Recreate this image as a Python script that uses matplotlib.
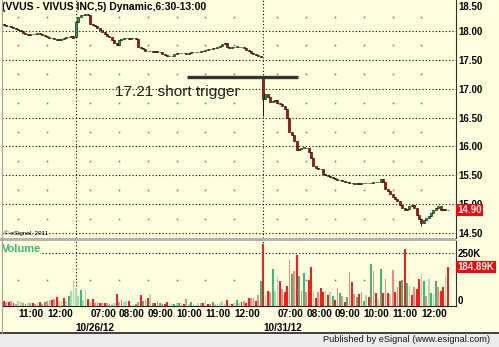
import numpy as np
import matplotlib.pyplot as plt
from matplotlib.transforms import blended_transform_factory
from matplotlib.patches import Rectangle
from matplotlib.lines import Line2D

plt.rcParams['font.family'] = ['Liberation Sans', 'DejaVu Sans']

# VVUS 5 minutos, sessao 6:30-13:00
# 10/25 (fim do dia), 10/26 e 10/31 (mercado fechado 10/29-30)
close_1025 = [18.11, 18.09, 18.08, 18.07, 18.05, 18.04, 18.02, 18.00, 17.97, 17.95,
              17.93, 17.94, 17.95, 17.94, 17.96, 17.95, 17.93, 17.92, 17.90, 17.88,
              17.87, 17.86, 17.85, 17.85, 17.86, 17.88, 17.89, 17.90, 17.91, 17.88]
close_1026 = [18.15, 18.24, 18.27, 18.28, 18.29, 18.28, 18.12, 18.10, 18.08, 18.05,
              18.02, 17.99, 17.95, 17.91, 17.89, 17.84, 17.80, 17.75, 17.85, 17.86,
              17.87, 17.87, 17.86, 17.87, 17.87, 17.86, 17.72, 17.70, 17.68, 17.66,
              17.65, 17.66, 17.64, 17.65, 17.64, 17.63, 17.60, 17.58, 17.56, 17.57,
              17.56, 17.60, 17.61, 17.61, 17.62, 17.61, 17.60, 17.62, 17.63, 17.64,
              17.63, 17.64, 17.65, 17.66, 17.67, 17.68, 17.68, 17.70, 17.71, 17.72,
              17.74, 17.77, 17.80, 17.73, 17.71, 17.72, 17.73, 17.73, 17.72, 17.73,
              17.70, 17.67, 17.65, 17.62, 17.60, 17.58, 17.57, 17.55]
close_1031 = [16.82, 16.90, 16.85, 16.77, 16.78, 16.80, 16.75, 16.74, 16.70, 16.65,
              16.50, 16.25, 16.20, 16.10, 15.94, 15.95, 15.98, 15.98, 15.97, 15.90,
              15.80, 15.66, 15.62, 15.60, 15.60, 15.52, 15.50, 15.48, 15.47, 15.45,
              15.44, 15.42, 15.42, 15.40, 15.39, 15.38, 15.37, 15.36, 15.35, 15.36,
              15.35, 15.36, 15.36, 15.37, 15.37, 15.37, 15.38, 15.38, 15.39, 15.43,
              15.38, 15.27, 15.22, 15.17, 15.12, 15.09, 15.06, 14.98, 14.93, 14.90,
              14.92, 14.97, 14.99, 14.94, 14.82, 14.74, 14.68, 14.73, 14.76, 14.79,
              14.84, 14.90, 14.93, 14.96, 14.90, 14.91, 14.89, 14.90]
day_opens = [18.12, 17.89, 17.22]
wick_lows = {108: 16.52, 174: 14.62}

# volume em milhares; R/r = vermelho forte/claro, G/g = verde forte/claro
vol_1025 = [22, 19, 21, 22, 14, 11, 22, 17, 14, 11, 13, 14, 16, 11, 14,
            19, 11, 21, 22, 30, 27, 32, 41, 22, 25, 38, 25, 49, 71, 125]
vol_1026 = [85, 46, 74, 27, 77, 33, 17, 33, 14, 17, 13, 14, 16, 13, 11, 11, 16, 57, 17, 27,
            17, 22, 22, 5, 6, 11, 17, 51, 24, 30, 38, 55, 16, 14, 22, 14, 11, 8, 19, 14,
            9, 8, 13, 16, 16, 8, 32, 11, 19, 8, 5, 14, 13, 13, 30, 8, 9, 17, 8, 9,
            14, 24, 11, 30, 13, 9, 13, 27, 14, 17, 22, 14, 36, 36, 36, 24, 51, 117]
vol_1031 = [295, 46, 70, 65, 174, 70, 141, 117, 79, 66, 95, 216, 152, 166, 242, 141, 73, 155, 65, 122,
            185, 70, 38, 68, 84, 65, 70, 54, 65, 49, 30, 84, 62, 49, 19, 41, 160, 112, 57, 41,
            57, 65, 22, 51, 41, 198, 166, 62, 35, 174, 62, 126, 62, 57, 169, 65, 88, 117, 122, 269,
            109, 95, 52, 88, 79, 128, 152, 120, 46, 126, 62, 57, 117, 88, 70, 90, 141, 185]
volcol_1025 = "RrRrRrggrGgrRrgRrGrrRrRggRgGgg"
volcol_1026 = ("ggGggRgRrr" "RrRrrggRrG" "ggRggGrRGr" "RgGRrGrRRg"
               "gGgGgRrgGg" "ggrRgRrGgg" "gggRgRgGgR" "rRRrrRrG")
volcol_1031 = ("RgRrGggRrR" "RrGrRGrGrR" "RgRrRRgRgG" "RrGrRGrRrG"
               "RrGgRGrRgG" "RrRgrRrRGR" "GgRrRRgGrg" "GgGrRRgR")

date_labels = ['10/26/12', '10/31/12']
price_ticks = [14.5, 15.0, 15.5, 16.0, 16.5, 17.0, 17.5, 18.0, 18.5]
trigger_price = 17.21
trigger_span = (76.3, 122.6)
last_price = 14.90
last_volume = 184.89

W, H = 499, 347
BG = '#ffffe0'

# montar barras
closes = np.array(close_1025 + close_1026 + close_1031)
day_len = [len(close_1025), len(close_1026), len(close_1031)]
day_start = np.cumsum([0] + day_len[:-1])
opens = np.empty_like(closes)
opens[1:] = closes[:-1]
for s, o in zip(day_start, day_opens):
    opens[s] = o
highs = np.maximum(opens, closes)
lows = np.minimum(opens, closes)
for i, lo in wick_lows.items():
    lows[i] = lo
x = np.arange(len(closes))

# horarios de cada barra para as marcas de hora
times = [10 * 60 + 30 + 5 * k for k in range(day_len[0])]
for n in day_len[1:]:
    times += [6 * 60 + 30 + 5 * k for k in range(n)]
times = np.array(times)
hour_idx = x[times % 60 == 0]
hour_lab = ['%02d:00' % (t // 60) for t in times[hour_idx]]

vols = np.array(vol_1025 + vol_1026 + vol_1031) * 1000.0
vcodes = volcol_1025 + volcol_1026 + volcol_1031
vpal = {'R': '#ff1a1a', 'r': '#f4897e', 'G': '#3cb878', 'g': '#a6dcae'}
vcolors = [vpal[c] for c in vcodes]

fig = plt.figure(figsize=(W / 100, H / 100), dpi=100, facecolor=BG)
ax = fig.add_axes([2 / W, 1 - 238 / H, 454 / W, 238 / H], facecolor=BG)
axv = fig.add_axes([2 / W, 1 - 306 / H, 454 / W, 65 / H], facecolor=BG, sharex=ax)

# candles
up = closes >= opens
ccol = np.where(up, '#00b040', '#e00000')
ax.vlines(x, lows, highs, color='black', lw=0.6, zorder=2)
body = np.where(np.abs(closes - opens) < 0.004, 0.004, closes - opens)
ax.bar(x, body, bottom=opens, width=0.85, color=ccol, edgecolor='black',
       linewidth=0.4, zorder=3)

ax.set_xlim(-0.75, 188.4)
ax.set_ylim(14.413, 18.537)
ax.set_yticks(price_ticks)
ax.set_yticklabels(['%.2f' % p for p in price_ticks])
ax.yaxis.tick_right()
ax.tick_params(axis='y', length=0, pad=1.5, labelsize=7)
for t in ax.get_yticklabels():
    t.set_fontweight('bold')
    if t.get_text() == '18.50':
        t.set_va('top')
ax.tick_params(axis='x', bottom=False, labelbottom=False)
ax.grid(axis='y', linestyle=(0, (1, 2)), color='black', lw=0.8)
ax.get_ygridlines()[-1].set_visible(False)
for sp in ['left', 'top', 'bottom']:
    ax.spines[sp].set_visible(False)
ax.spines['right'].set_color('#303030')

# pontos das horas
mids = np.array(price_ticks[:-1]) + 0.25
gx, gy = np.meshgrid(hour_idx, mids)
ax.plot(gx.ravel(), gy.ravel(), 's', color='#707070', ms=1.1, mew=0, zorder=1)
for s in day_start[1:]:
    ax.axvline(s, linestyle=(0, (1, 2)), color='black', lw=0.8, zorder=1)
    axv.axvline(s, linestyle=(0, (1, 2)), color='black', lw=0.8, zorder=1)

# gatilho
ax.hlines(trigger_price, *trigger_span, color='#333333', lw=2.4, zorder=4)
ax.text(46.3, 16.94, '%.2f short trigger' % trigger_price, fontsize=11.1,
        color='#202020', va='center', ha='left')

ax.text(0.0, 1 - 7 / 238, '(VVUS - VIVUS INC,5) Dynamic,6:30-13:00',
        transform=ax.transAxes, fontsize=7.5, fontweight='bold', va='center')
ax.text(2 / 454, 5 / 238, '\u00a9 eSignal, 2011', transform=ax.transAxes,
        fontsize=4.5, va='center')

tr = blended_transform_factory(ax.transAxes, ax.transData)
ax.text(1.0035, last_price, '%.2f' % last_price, transform=tr, color='white',
        fontsize=7, fontweight='bold', va='center', ha='left', zorder=6,
        bbox=dict(boxstyle='square,pad=0.12', fc='#ff0000', ec='none'))

# volume
axv.bar(x, vols, width=0.75, color=vcolors, zorder=3)
axv.set_ylim(0, 308000)
axv.set_yticks([0, 250000])
axv.set_yticklabels(['0', '250K'])
axv.yaxis.tick_right()
axv.tick_params(axis='y', length=0, pad=1.5, labelsize=7)
for t in axv.get_yticklabels():
    t.set_fontweight('bold')
    if t.get_text() == '0':
        t.set_va('bottom')
axv.axhline(250000, linestyle=(0, (1, 2)), color='black', lw=0.8, zorder=1)
axv.plot(hour_idx, np.full(len(hour_idx), 125000), 's', color='#707070',
         ms=1.1, mew=0, zorder=1)
for sp in ['left', 'top']:
    axv.spines[sp].set_visible(False)
axv.spines['right'].set_color('#303030')
axv.spines['bottom'].set_color('#202020')

axv.set_xticks(hour_idx)
axv.set_xticklabels(hour_lab)
axv.set_xticks(day_start[1:], minor=True)
axv.set_xticklabels(date_labels, minor=True)
axv.tick_params(axis='x', which='major', length=0, pad=2.5, labelsize=7.2)
axv.tick_params(axis='x', which='minor', length=0, pad=12, labelsize=7.2)
for t in axv.get_xticklabels() + axv.get_xticklabels(minor=True):
    t.set_fontweight('bold')
    t.set_ha('left')

axv.text(0.0, (306 - 249) / 65, 'Volume', transform=axv.transAxes, color='#3cb878',
         fontsize=8, fontweight='bold', va='center', ha='left', zorder=5,
         bbox=dict(boxstyle='square,pad=0.1', fc=BG, ec='none'))
trv = blended_transform_factory(axv.transAxes, axv.transData)
axv.text(1.0035, last_volume * 1000, '%.2fK' % last_volume, transform=trv,
         color='white', fontsize=7, fontweight='bold', va='center', ha='left',
         zorder=6, bbox=dict(boxstyle='square,pad=0.12', fc='#ff0000', ec='none'))

# moldura da janela
fig.patches.append(Rectangle((0, 1 - 241 / H), 456 / W, 3 / H, transform=fig.transFigure,
                             fc='#b4b4b4', ec='none'))
fig.patches.append(Rectangle((0, 0), 1, 13 / H, transform=fig.transFigure,
                             fc='#ececec', ec='none'))
fig.lines.append(Line2D([0, 1], [14 / H, 14 / H], transform=fig.transFigure,
                        color='#303030', lw=1.3))
fig.lines.append(Line2D([1.5 / W, 1.5 / W], [14 / H, 1], transform=fig.transFigure,
                        color='#a0a0a0', lw=0.8))
fig.text(490 / W, 1 - 339 / H, 'Published by eSignal (www.esignal.com)',
         fontsize=6.7, color='#1a1a1a', ha='right', va='center')

fig.savefig('out.png', dpi=100, facecolor=BG)
